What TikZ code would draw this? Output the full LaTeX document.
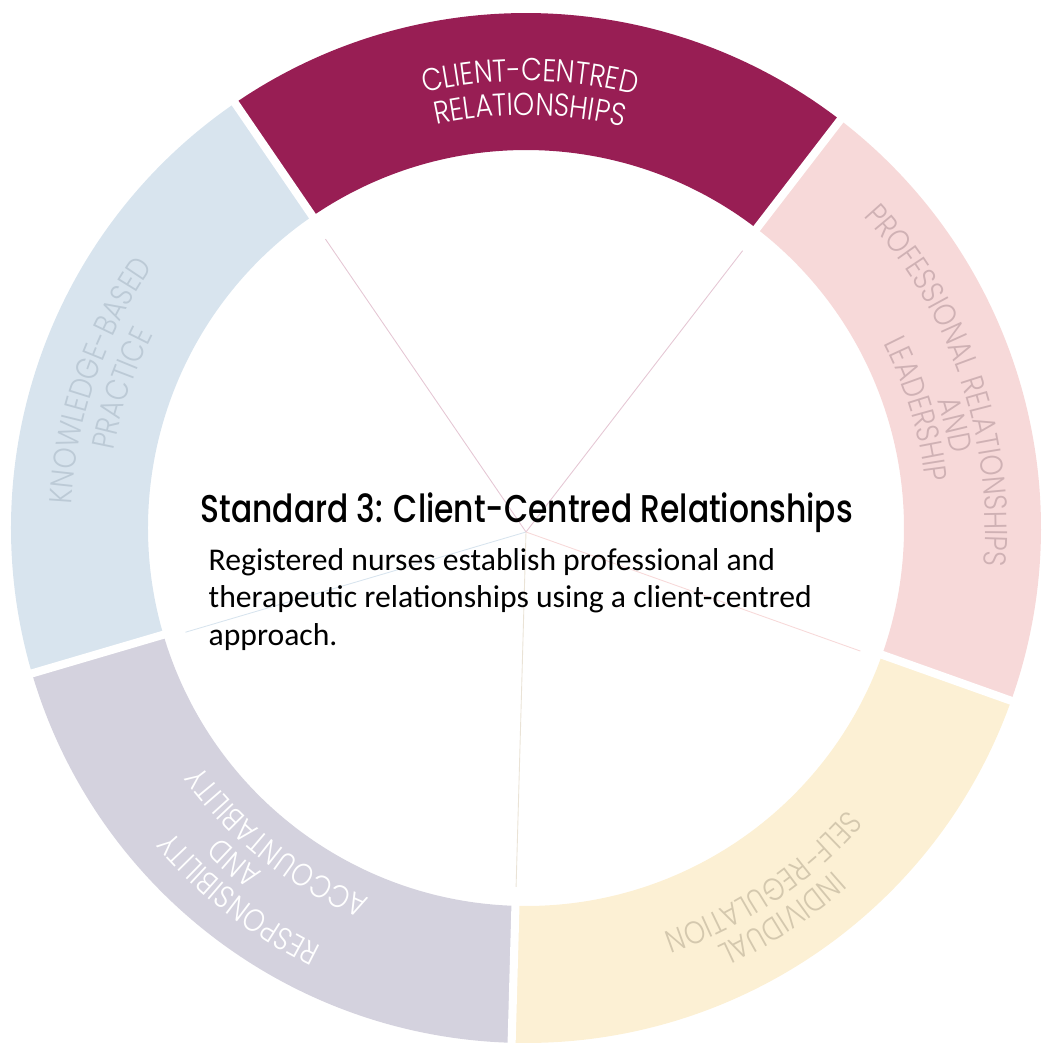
\documentclass[tikz,border=0pt]{standalone}
\usepackage{fontspec}
\setmainfont{Carlito}
\newfontfamily\ringfont[FakeStretch=0.85]{Poppins Light}
\newfontfamily\titlefont[FakeStretch=0.81]{Poppins Medium}
\usetikzlibrary{decorations.text}

\definecolor{crimson}{HTML}{981E54}
\definecolor{ice}{HTML}{D8E4EE}
\definecolor{lilac}{HTML}{D4D2DE}
\definecolor{cream}{HTML}{FCF0D4}
\definecolor{blush}{HTML}{F7D9D9}
\definecolor{icetext}{HTML}{BCCAD6}
\definecolor{creamtext}{HTML}{D4C8AE}
\definecolor{blushtext}{HTML}{CFB1B4}

\tikzstyle{gap}=[draw=white,line width=2.3pt]
\tikzstyle{spoke}=[line width=0.25pt]
\tikzstyle{ringlabel}=[decorate,decoration={text along path,text align=center}]
\tikzstyle{body}=[anchor=base west,inner sep=0pt,font=\fontsize{9pt}{11pt}\selectfont]

\newcommand{\ringtype}{\ringfont\fontsize{9pt}{11pt}\selectfont}
% one line of ring text, running clockwise round the centre
\newcommand{\arclabel}[4]{%
  \path[ringlabel,decoration={text={|\ringtype|#4},text color=#3}]
     (#1+45:#2) arc[start angle=#1+45,end angle=#1-45,radius=#2];}

\begin{document}
\begin{tikzpicture}[x=0.01cm,y=0.01cm]
    \useasboundingbox (-526,-517) rectangle (518,528);

    \def\rin{378};
    \def\rout{515};

    % the five segments
    \foreach \a/\col in {52.4/crimson, 124.4/ice, 196.4/lilac, 268.4/cream, 340.4/blush}
        \fill[\col] (\a:\rout) arc[start angle=\a,end angle=\a+72,radius=\rout]
            -- (\a+72:\rin) arc[start angle=\a+72,end angle=\a,radius=\rin] -- cycle;

    \foreach \a in {52.4,124.4,196.4,268.4,340.4}
        \draw[gap] (\a:370) -- (\a:525);

    % thin spokes meeting under the title
    \coordinate (hub) at (0,-4);
    \foreach \a/\col in {52.4/crimson!25, 124.4/crimson!25, 196.4/ice, 268.4/creamtext!50, 340.4/blush}
        \draw[spoke,\col] (hub) -- ++(\a:355);

    \arclabel{89.5}{447}{white}{CLIENT-CENTRED}
    \arclabel{89.5}{413}{white}{RELATIONSHIPS}

    \arclabel{161}{455}{icetext}{KNOWLEDGE-BASED}
    \arclabel{161}{420}{icetext}{PRACTICE}

    \arclabel{232.3}{466}{white}{RESPONSIBILITY}
    \arclabel{229}{434}{white}{AND}
    \arclabel{231.7}{402}{white}{ACCOUNTABILITY}

    \arclabel{303.2}{460}{creamtext}{INDIVIDUAL}
    \arclabel{303.8}{427}{creamtext}{SELF-REGULATION}

    \arclabel{19}{459}{blushtext}{PROFESSIONAL RELATIONSHIPS}
    \arclabel{13.5}{431}{blushtext}{AND}
    \arclabel{16.9}{402}{blushtext}{LEADERSHIP}

    \node[anchor=base west,inner sep=0pt,font=\titlefont\fontsize{11pt}{13pt}\selectfont]
        (title) at (-326,6) {Standard 3: Client-Centred Relationships};
    \node[body] (line1) at (-318,-42) {Registered nurses establish professional and};
    \node[body] (line2) at (-318,-79) {therapeutic relationships using a client-centred};
    \node[body] (line3) at (-318,-117) {approach.};

\end{tikzpicture}
\end{document}
